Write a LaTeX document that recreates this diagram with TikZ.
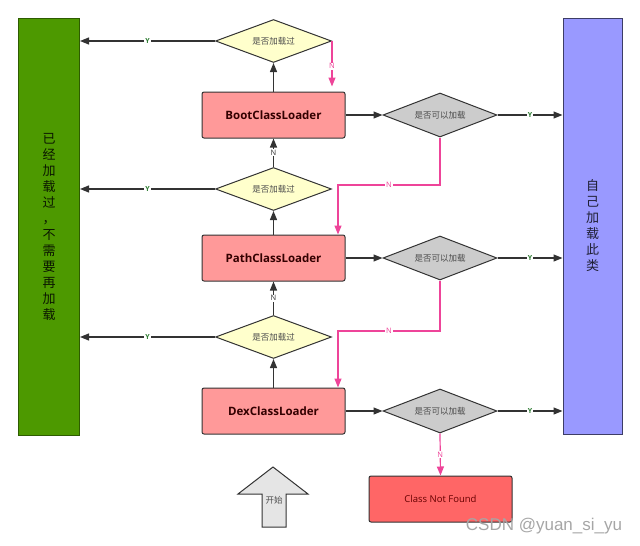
\documentclass[tikz,border=0pt]{standalone}
\usepackage{fontspec}
\setmainfont{Open Sans}
\newfontfamily\cjk{Noto Sans CJK SC}
\newfontfamily\markfont{Liberation Sans}
\usetikzlibrary{shapes.geometric, arrows.meta, calc}
\definecolor{edgegray}{HTML}{333333}
\definecolor{donegreen}{HTML}{4D9900}
\definecolor{selfblue}{HTML}{9999FF}
\definecolor{loadred}{HTML}{FF9999}
\definecolor{missred}{HTML}{FF6666}
\definecolor{chkyellow}{HTML}{FFFFCC}
\definecolor{cangray}{HTML}{CCCCCC}
\definecolor{nopink}{HTML}{EE4499}
\definecolor{yesgreen}{HTML}{2E7D32}
\tikzset{
  loader/.style = {draw=edgegray, fill=loadred, line width=1pt, rounded corners=2pt,
    minimum width=143pt, minimum height=46pt, text=black!80!red,
    font=\bfseries\fontsize{11.5}{13}\selectfont},
  checked/.style = {diamond, draw=edgegray, fill=chkyellow, line width=1pt, aspect=3,
    inner sep=0, minimum width=116pt, minimum height=43pt, text=black!70,
    font=\cjk\fontsize{8.5}{10}\selectfont},
  loadable/.style = {checked, fill=cangray, minimum width=114pt, minimum height=44pt},
  bigbar/.style = {draw, line width=1pt, minimum width=61pt, minimum height=417pt,
    align=center, inner sep=0, font=\cjk\fontsize{13}{16}\selectfont},
  flow/.style = {draw=edgegray, line width=1.2pt, -{Triangle[length=9pt,width=7pt]}},
  noflow/.style = {flow, draw=nopink, -{Triangle[length=9pt,width=7pt,fill=nopink]}},
  yes/.style = {fill=white, inner sep=1pt, text=yesgreen, font=\bfseries\fontsize{7}{8}\selectfont},
  no/.style = {fill=white, inner sep=1pt, text=edgegray, font=\fontsize{7.5}{8}\selectfont},
  nopinklabel/.style = {no, text=nopink},
}

\begin{document}
\begin{tikzpicture}[x=1pt, y=-1pt]
  \useasboundingbox (0,0) rectangle (640,546);
  \node (done) [bigbar, draw=donegreen!60!black, fill=donegreen, text=black!85!donegreen] at (49,226.5)
    {已\\经\\加\\载\\过\\，\\不\\需\\要\\再\\加\\载};
  \node (self) [bigbar, draw=selfblue!40!black, fill=selfblue, text=black!80!selfblue,
    minimum width=59pt, minimum height=416pt] at (592.5,226) {自\\己\\加\\载\\此\\类};
  \node (notfound) [loader, fill=missred, text=black!60!red, font=\fontsize{9.5}{11}\selectfont] at (440.5,499) {Class Not Found};

  % one row per class loader
  \foreach \X/\l/\c in {Boot/115/41, Path/258/189, Dex/411/337}{
    \node (load\X) [loader] at (273.5,\l) {\X ClassLoader};
    \node (chk\X) [checked] at (273.5,\c) {是否加载过};
    \node (can\X) [loadable] at (440,\l) {是否可以加载};

    \draw [flow] (load\X) -- (chk\X);
    \draw [flow] (chk\X.west) -- node [yes] {Y} (chk\X.west -| done.east);
    \draw [flow] (load\X) -- (can\X);
    \draw [flow] (can\X.east) -- node [yes] {Y} (can\X.east -| self.west);
  }

  \draw [flow] (chkPath) -- node [no] {N} (loadBoot);
  \draw [flow] (chkDex) -- node [no] {N} (loadPath);

  \coordinate (turnBoot) at (338,185);
  \coordinate (turnPath) at (338,331);
  \draw [noflow, shorten >=5pt] (chkBoot.east) -- node [nopinklabel] {N} (chkBoot.east |- loadBoot.north);
  \draw [noflow] (canBoot.south) |- node [nopinklabel, pos=0.75] {N} (turnBoot) -- (turnBoot |- loadPath.north);
  \draw [noflow] (canPath.south) |- node [nopinklabel, pos=0.75] {N} (turnPath) -- (turnPath |- loadDex.north);
  \draw [noflow] (canDex.south) -- node [nopinklabel] {N} (notfound.north);

  % start arrow
  \draw [draw=edgegray, fill=black!10, line width=1pt, line join=miter]
    (238,494) -- (273,467) -- (308,494) -- (286,494) -- (286,527) -- (262,527) -- (262,494) -- cycle;
  \node (start) [font=\cjk\fontsize{8.5}{10}\selectfont, text=black!70] at (274,500) {开始};

  \node (mark) [font=\markfont\fontsize{17}{19}\selectfont, text=black!35] at (544,526) {CSDN @yuan\_si\_yu};
\end{tikzpicture}
\end{document}
